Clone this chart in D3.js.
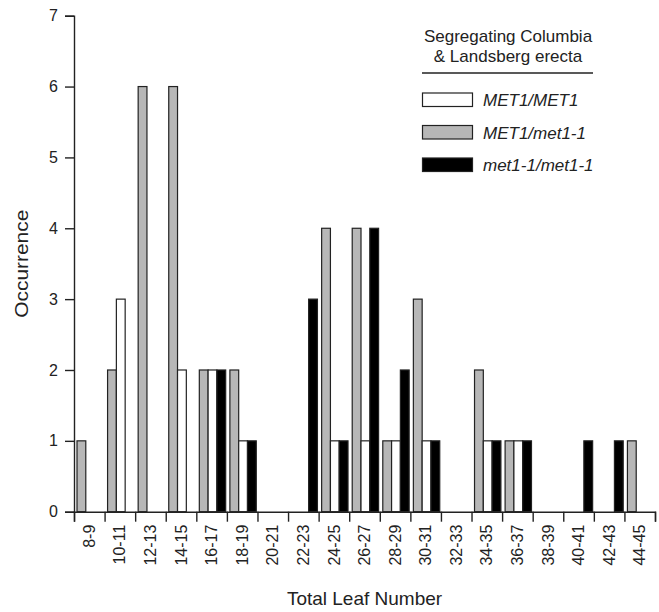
<!DOCTYPE html>
<html>
<head>
<meta charset="utf-8">
<script src="https://cdn.jsdelivr.net/npm/d3@7"></script>
<style>
  body { margin: 0; background: #fff; }
  svg { font-family: "Liberation Sans", Arial, sans-serif; }
  .axis path, .axis line { stroke: #222; stroke-width: 1.4; }
  .axis text { font-size: 16px; fill: #222; }
</style>
</head>
<body>
<svg id="chart" width="659" height="612"></svg>
<script>
// categories (total leaf number bins)
const categories = ["8-9", "10-11", "12-13", "14-15", "16-17", "18-19", "20-21", "22-23",
    "24-25", "26-27", "28-29", "30-31", "32-33", "34-35", "36-37", "38-39",
    "40-41", "42-43", "44-45"];

// occurrence per genotype
const wildType = [0, 3, 0, 2, 2, 1, 0, 0, 1, 1, 1, 1, 0, 1, 1, 0, 0, 0, 0];   // MET1/MET1
const hetero   = [1, 2, 6, 6, 2, 2, 0, 0, 4, 4, 1, 3, 0, 2, 1, 0, 0, 0, 1];   // MET1/met1-1
const mutant   = [0, 0, 0, 0, 2, 1, 0, 3, 1, 4, 2, 1, 0, 1, 1, 0, 1, 1, 0];   // met1-1/met1-1

const yTicks = [0, 1, 2, 3, 4, 5, 6, 7];

const series = [
    {key: "het", label: "MET1/met1-1", values: hetero, fill: "#b7b7b7"},
    {key: "wt", label: "MET1/MET1", values: wildType, fill: "#ffffff"},
    {key: "mut", label: "met1-1/met1-1", values: mutant, fill: "#000000"}
];
const legendOrder = ["wt", "het", "mut"];

const svg = d3.select("#chart");
const plotLeft = 74, plotRight = 655, plotTop = 15.7, plotBottom = 511.7;

const x = d3.scaleBand().domain(categories).range([plotLeft, plotRight]).padding(0);
const xInner = d3.scaleBand().domain(series.map(s => s.key))
    .range([3, x.bandwidth() - 1.2]).padding(0);
const xEdge = d3.scaleLinear().domain([0, categories.length]).range([plotLeft, plotRight]);
const y = d3.scaleLinear().domain([0, 7]).range([plotBottom, plotTop]);

// bars
const bars = [];
series.forEach(s => {
    s.values.forEach((v, i) => {
        if (v > 0) bars.push({cat: categories[i], key: s.key, value: v, fill: s.fill});
    });
});

svg.append("g").selectAll("rect")
    .data(bars)
    .enter().append("rect")
    .attr("x", d => x(d.cat) + xInner(d.key))
    .attr("y", d => y(d.value))
    .attr("width", xInner.bandwidth())
    .attr("height", d => y(0) - y(d.value))
    .attr("fill", d => d.fill)
    .attr("stroke", "#222")
    .attr("stroke-width", 1.2);

// y axis
svg.append("g")
    .attr("class", "axis")
    .attr("transform", `translate(${plotLeft},0)`)
    .call(d3.axisLeft(y).tickValues(yTicks).tickSize(9).tickPadding(7).tickFormat(d3.format("d")));

// x axis: boundary ticks
svg.append("g")
    .attr("class", "axis")
    .attr("transform", `translate(0,${plotBottom})`)
    .call(d3.axisBottom(xEdge).tickValues(d3.range(categories.length + 1))
        .tickSize(10).tickFormat(""));

// x axis: category labels
svg.append("g")
    .attr("class", "axis")
    .selectAll("text")
    .data(categories)
    .enter().append("text")
    .attr("transform", d => `translate(${x(d) + x.bandwidth() / 2},${plotBottom + 13}) rotate(-90)`)
    .attr("text-anchor", "end")
    .attr("dy", "0.35em")
    .text(d => d);

// axis titles
svg.append("text")
    .attr("transform", `translate(27.5,${(plotTop + plotBottom) / 2}) rotate(-90)`)
    .attr("text-anchor", "middle")
    .attr("font-size", "18px")
    .attr("textLength", 108)
    .attr("lengthAdjust", "spacingAndGlyphs")
    .attr("fill", "#222")
    .text("Occurrence");

svg.append("text")
    .attr("x", (plotLeft + plotRight) / 2)
    .attr("y", 605)
    .attr("text-anchor", "middle")
    .attr("font-size", "19px")
    .attr("fill", "#222")
    .text("Total Leaf Number");

// legend
const legend = svg.append("g");
const titleLines = ["Segregating Columbia", "& Landsberg erecta"];
legend.selectAll(".ltitle")
    .data(titleLines)
    .enter().append("text")
    .attr("class", "ltitle")
    .attr("x", 508)
    .attr("y", (_, i) => 41.5 + i * 20.5)
    .attr("text-anchor", "middle")
    .attr("font-size", "17px")
    .attr("fill", "#222")
    .text(d => d);

legend.append("line")
    .attr("x1", 422).attr("x2", 593)
    .attr("y1", 73).attr("y2", 73)
    .attr("stroke", "#222")
    .attr("stroke-width", 1.6);

const legendItems = legendOrder.map(k => series.find(s => s.key === k));
const rows = legend.selectAll(".lrow")
    .data(legendItems)
    .enter().append("g")
    .attr("class", "lrow")
    .attr("transform", (_, i) => `translate(422,${92.5 + i * 32.5})`);

rows.append("rect")
    .attr("x", 0.5)
    .attr("y", 0.5)
    .attr("width", 50)
    .attr("height", 13.5)
    .attr("fill", d => d.fill)
    .attr("stroke", "#222")
    .attr("stroke-width", 1.2);

rows.append("text")
    .attr("x", 61)
    .attr("y", 13.5)
    .attr("font-size", "17px")
    .attr("font-style", "italic")
    .attr("fill", "#222")
    .text(d => d.label);
</script>
</body>
</html>
